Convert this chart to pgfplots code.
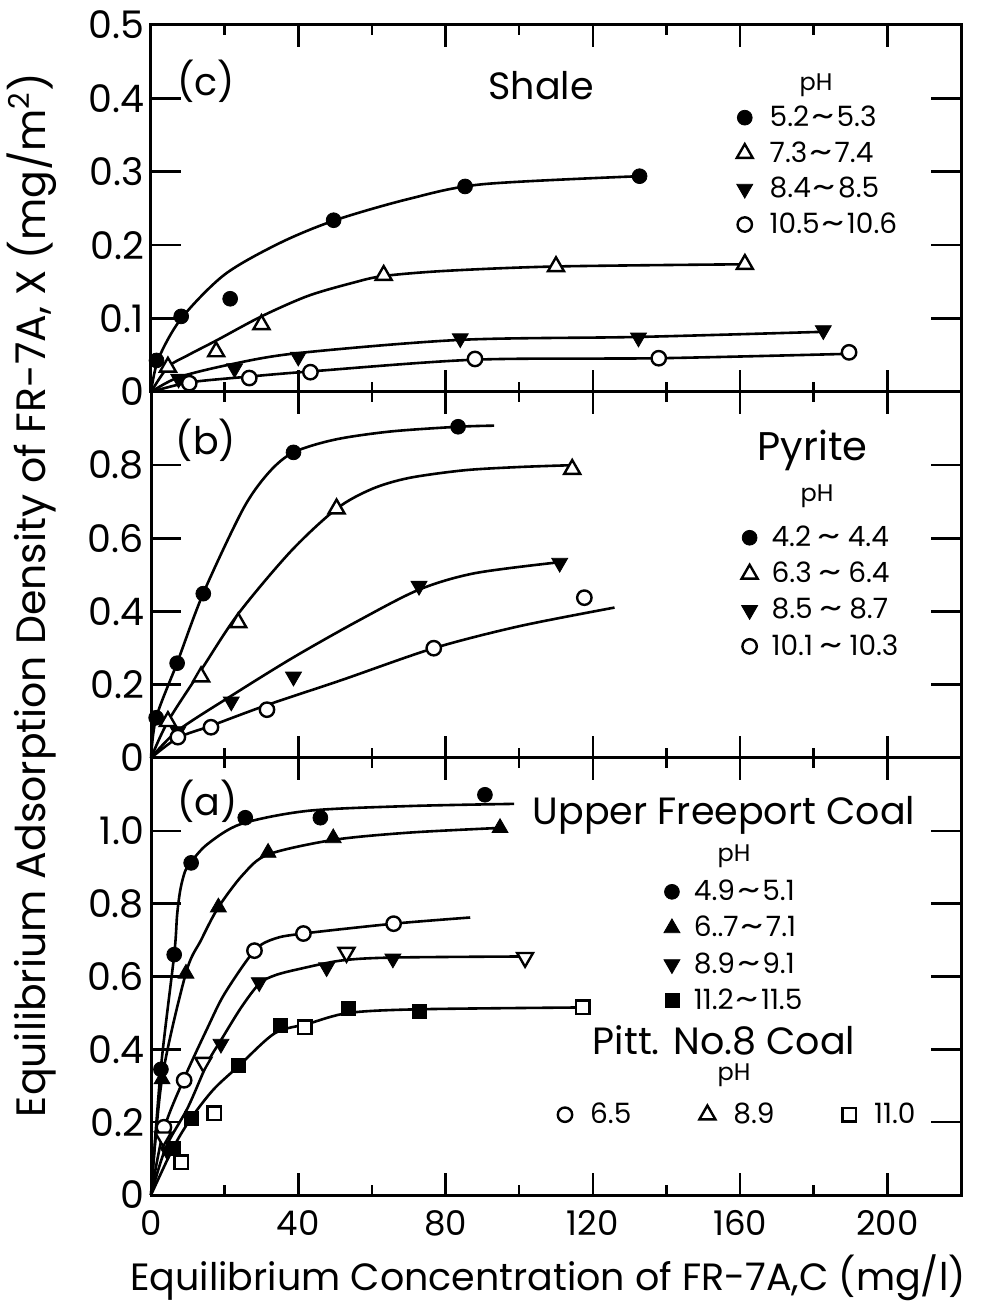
\documentclass[border=0pt]{standalone}
\usepackage{fontspec}
\setmainfont{Poppins}
\usepackage{graphicx}
\usepackage{pgfplots}
\pgfplotsset{compat=1.18}

\newcommand{\fs}[1]{\fontsize{#1}{#1}\selectfont}
\newcommand{\tl}{\kern1pt\scalebox{1.6}[1.1]{\textasciitilde}\kern1pt}

\pgfplotsset{
  panel/.style={
    scale only axis, width=405pt,
    xmin=0, xmax=220,
    axis on top, clip=false,
    axis line style={line width=1.5pt},
    tick style={line width=1.3pt, black},
    tick align=inside,
    xtick={0,40,80,120,160,200},
    minor xtick={20,60,100,140,180},
    xtick style={/pgfplots/major tick length=11pt, /pgfplots/minor tick length=5pt},
    ytick style={/pgfplots/major tick length=15pt},
    yticklabel style={font=\fs{19}},
    xticklabel style={font=\fs{17}, yshift=-4pt},
    legend cell align=left,
    legend style={draw=none, fill=none, anchor=north west, font=\fs{14},
      row sep=2pt, column sep=6.5pt, cells={inner sep=1pt}},
  },
  mk/.style={only marks, black,
    legend image code/.code={\draw[##1] plot coordinates {(0pt,0pt)};}},
  fcirc/.style={mk, mark=*, mark size=3.7pt},
  ocirc/.style={mk, mark=*, mark size=3.6pt, mark options={fill=white, line width=1.2pt}},
  otri/.style={mk, mark=triangle*, mark size=4.6pt, mark options={fill=white, line width=1.2pt}},
  otrid/.style={mk, mark=triangle*, mark size=4.6pt, mark options={fill=white, line width=1.2pt, rotate=180}},
  ftri/.style={mk, mark=triangle*, mark size=4.6pt},
  ftrid/.style={mk, mark=triangle*, mark size=4.6pt, mark options={rotate=180}},
  fsq/.style={mk, mark=square*, mark size=3.5pt},
  osq/.style={mk, mark=square*, mark size=3.4pt, mark options={fill=white, line width=1.2pt}},
  curve/.style={black, line width=1.3pt, smooth, no markers, forget plot},
}

\begin{document}
\begin{tikzpicture}
\useasboundingbox (-75.5pt,-54.5pt) rectangle (420pt,597.5pt);

% ---------------- (a) coals ----------------
\begin{axis}[panel, at={(0pt,0pt)}, anchor=south west, height=218.5pt,
  ymin=0, ymax=1.2,
  ytick={0,0.2,0.4,0.6,0.8,1.0}, yticklabels={0,0.2,0.4,0.6,0.8,1.0},
  xticklabels={0,40,80,120,160,200},
  legend style={at={(axis description cs:0.6254,0.740)}, row sep=2.3pt, column sep=5pt}]
\addplot[curve] coordinates {(0,0)(2.7,0.35)(6.3,0.66)(7.1,0.77)(8,0.84)(9.3,0.89)(10.9,0.915)(15.4,0.964)(24.5,1.019)(42.7,1.055)(70,1.068)(98.6,1.074)};
\addplot[curve] coordinates {(0,0)(3,0.32)(9.5,0.61)(13.6,0.70)(18.3,0.79)(25,0.88)(31.8,0.935)(49.5,0.975)(70,0.995)(94.8,1.008)};
\addplot[curve] coordinates {(0,0)(3.5,0.18)(9,0.32)(15.4,0.46)(20,0.553)(28.1,0.671)(33.6,0.704)(41.4,0.718)(65.9,0.745)(86.7,0.762)};
\addplot[curve] coordinates {(0,0)(4,0.13)(10,0.24)(15.4,0.364)(19,0.425)(24.5,0.515)(29.4,0.58)(33.6,0.603)(40,0.62)(51.8,0.644)(65.7,0.652)(101.6,0.655)};
\addplot[curve] coordinates {(0,0)(6,0.129)(10.9,0.211)(17,0.29)(23.7,0.353)(33.6,0.444)(42.6,0.47)(53.7,0.5)(72.8,0.51)(117.2,0.515)};
% Upper Freeport coal
\addplot[fcirc] coordinates {(2.7,0.345)(6.3,0.66)(10.9,0.912)(25.6,1.036)(46,1.036)(90.7,1.099)};
\addlegendentry{4.9\tl5.1}
\addplot[ftri] coordinates {(3,0.318)(9.5,0.608)(18.3,0.79)(31.8,0.94)(49.5,0.98)(94.8,1.008)};
\addlegendentry{6..7\tl7.1}
\addplot[ftrid] coordinates {(4.5,0.12)(19,0.415)(29.4,0.584)(47.7,0.625)(65.7,0.649)};
\addlegendentry{8.9\tl9.1}
\addplot[fsq] coordinates {(6,0.129)(10.9,0.211)(23.7,0.356)(35.1,0.466)(53.7,0.512)(72.8,0.504)};
\addlegendentry{11.2\tl11.5}
% Pitt. No.8 coal
\addplot[ocirc, forget plot] coordinates {(3.5,0.186)(9,0.315)(28.1,0.671)(41.4,0.718)(65.9,0.745)};
\addplot[otrid, forget plot] coordinates {(3.3,0.159)(14.2,0.364)(53.1,0.666)(101.6,0.652)};
\addplot[osq, forget plot] coordinates {(8.2,0.09)(17.2,0.224)(41.7,0.46)(117.2,0.515)};
\end{axis}

% legend row for Pitt. No.8 coal
\begin{axis}[scale only axis, width=405pt, height=218.5pt, at={(0pt,0pt)}, anchor=south west,
  hide axis, xmin=0, xmax=220, ymin=0, ymax=1.2,
  legend columns=3, legend cell align=left,
  legend style={draw=none, fill=none, anchor=north west, font=\fs{14},
    at={(axis description cs:0.4943,0.230)},
    column sep=7pt, cells={inner sep=1pt},
    /tikz/every even column/.append style={column sep=32pt}}]
\addlegendimage{ocirc}\addlegendentry{6.5}
\addlegendimage{otri}\addlegendentry{8.9}
\addlegendimage{osq}\addlegendentry{11.0}
\end{axis}

% ---------------- (b) pyrite ----------------
\begin{axis}[panel, at={(0pt,218.5pt)}, anchor=south west, height=183pt,
  ymin=0, ymax=1.0,
  ytick={0,0.2,0.4,0.6,0.8}, yticklabels={0,0.2,0.4,0.6,0.8},
  xticklabels=\empty,
  legend style={at={(axis description cs:0.7213,0.657)}, row sep=2.3pt, column sep=5pt}]
\addplot[curve] coordinates {(0,0)(1.4,0.11)(7.1,0.26)(14.2,0.45)(25,0.68)(32,0.78)(38.7,0.835)(50,0.87)(65,0.892)(83.4,0.905)(93.2,0.908)};
\addplot[curve] coordinates {(0,0)(4.6,0.1)(13.6,0.24)(23.7,0.394)(38,0.565)(50.4,0.681)(60,0.735)(70,0.765)(85,0.786)(100,0.795)(114.4,0.8)};
\addplot[curve] coordinates {(0,0)(7.3,0.075)(22.3,0.173)(38.7,0.275)(56.3,0.375)(72.8,0.46)(88,0.505)(111,0.535)};
\addplot[curve] coordinates {(0,0)(7.3,0.055)(16.3,0.088)(31.6,0.145)(51.8,0.213)(76.8,0.3)(100,0.36)(125.9,0.411)};
\addplot[fcirc] coordinates {(1.4,0.11)(7.1,0.259)(14.2,0.449)(38.7,0.835)(83.4,0.905)};
\addlegendentry{4.2\,\tl\,4.4}
\addplot[otri] coordinates {(4.6,0.1)(13.6,0.222)(23.7,0.37)(50.4,0.681)(114.4,0.789)};
\addlegendentry{6.3\,\tl\,6.4}
\addplot[ftrid] coordinates {(7.3,0.073)(21.8,0.154)(38.7,0.222)(72.8,0.47)(111,0.533)};
\addlegendentry{8.5\,\tl\,8.7}
\addplot[ocirc] coordinates {(7.3,0.057)(16.3,0.084)(31.5,0.132)(76.8,0.3)(117.7,0.438)};
\addlegendentry{10.1\,\tl\,10.3}
\end{axis}

% ---------------- (c) shale ----------------
\begin{axis}[panel, at={(0pt,401.5pt)}, anchor=south west, height=183.5pt,
  ymin=0, ymax=0.5,
  ytick={0,0.1,0.2,0.3,0.4,0.5}, yticklabels={0,0.1,0.2,0.3,0.4,0.5},
  xticklabels=\empty,
  legend style={at={(axis description cs:0.7153,0.8025)}}]
\addplot[curve] coordinates {(0,0)(2,0.045)(8.2,0.1)(20,0.16)(35,0.203)(50,0.234)(70,0.263)(90,0.283)(132.7,0.294)};
\addplot[curve] coordinates {(0,0)(4.6,0.034)(10,0.05)(17.7,0.07)(30,0.103)(42.7,0.131)(55,0.149)(63.2,0.158)(80,0.165)(110,0.171)(161.3,0.174)};
\addplot[curve] coordinates {(0,0)(7.5,0.02)(22,0.038)(40,0.053)(84,0.071)(132.4,0.075)(182.6,0.082)};
\addplot[curve] coordinates {(0,0)(10.4,0.013)(26.7,0.021)(43.3,0.028)(88,0.044)(137.9,0.046)(189.6,0.052)};
\addplot[fcirc] coordinates {(1.5,0.043)(8.2,0.103)(21.5,0.127)(49.6,0.234)(85.3,0.28)(132.7,0.294)};
\addlegendentry{5.2\tl5.3}
\addplot[otri] coordinates {(4.6,0.034)(17.7,0.055)(30,0.092)(63.2,0.159)(110,0.171)(161.3,0.174)};
\addlegendentry{7.3\tl7.4}
\addplot[ftrid] coordinates {(7.5,0.018)(22.7,0.032)(40,0.048)(84,0.073)(132.4,0.074)(182.6,0.084)};
\addlegendentry{8.4\tl8.5}
\addplot[ocirc] coordinates {(10.4,0.012)(26.7,0.019)(43.3,0.027)(88,0.045)(137.9,0.046)(189.6,0.054)};
\addlegendentry{10.5\tl10.6}
\end{axis}

% panel labels and titles
\node[font=\fs{19}, anchor=base] at (27.5pt,549.5pt) {(c)};
\node[font=\fs{19}, anchor=base] at (195pt,547.5pt) {Shale};
\node[font=\fs{12}, anchor=base] at (332.5pt,552pt) {pH};
\node[font=\fs{19}, anchor=base] at (27.5pt,370pt) {(b)};
\node[font=\fs{20}, anchor=base] at (330.75pt,367pt) {Pyrite};
\node[font=\fs{12}, anchor=base] at (333pt,346.5pt) {pH};
\node[font=\fs{19}, anchor=base] at (28.25pt,189.5pt) {(a)};
\node[font=\fs{19}, anchor=base] at (286.5pt,185pt) {Upper Freeport Coal};
\node[font=\fs{12}, anchor=base] at (291.5pt,166.5pt) {pH};
\node[font=\fs{19}, anchor=base] at (286.5pt,70pt) {Pitt. No.8 Coal};
\node[font=\fs{12}, anchor=base] at (291.5pt,57pt) {pH};

% axis titles
\node[font=\fs{20.5}, anchor=base, rotate=90] at (-53pt,300pt)
  {Equilibrium Adsorption Density of FR-7A, X (mg/m\textsuperscript{2})};
\node[font=\fs{19}, anchor=base] at (198.5pt,-47.5pt)
  {Equilibrium Concentration of FR-7A,C (mg/l)};
\end{tikzpicture}
\end{document}
